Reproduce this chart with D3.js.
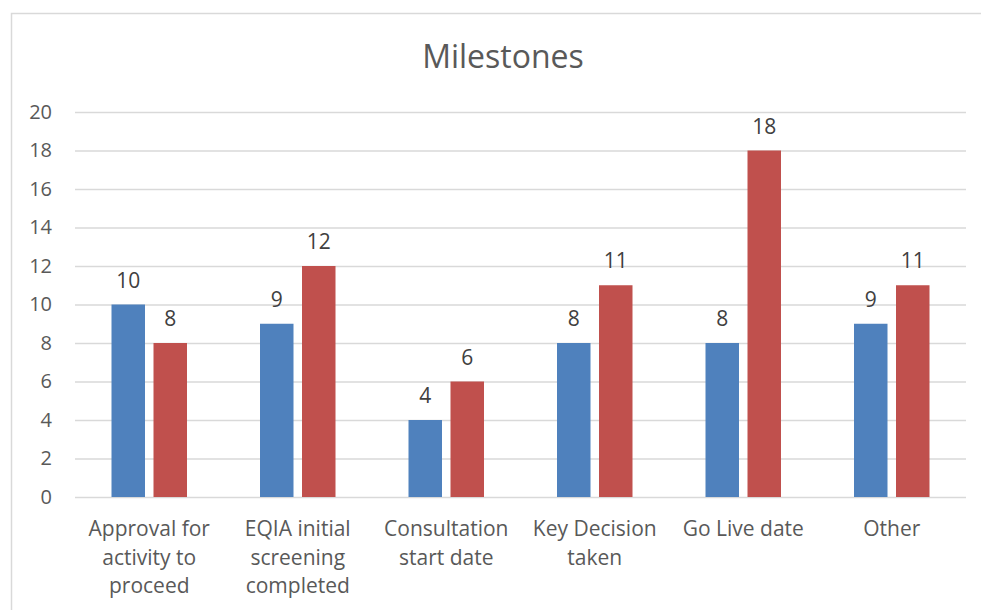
<!DOCTYPE html>
<html>
<head>
<meta charset="utf-8">
<script src="https://cdn.jsdelivr.net/npm/d3@7"></script>
<style>
  body { margin: 0; background: #fff; }
  text { font-family: "Open Sans", sans-serif; fill: #595959; }
</style>
</head>
<body>
<div id="canvas"></div>
<script>
(function(d3){

  // chart data
  var categories = ['Approval', 'EQIA', 'Consultation', 'Key Decision', 'Go Live', 'Other'],
      tickLabels = [
        ['Approval for', 'activity to', 'proceed'],
        ['EQIA initial', 'screening', 'completed'],
        ['Consultation', 'start date'],
        ['Key Decision', 'taken'],
        ['Go Live date'],
        ['Other']
      ],
      seriesA = [10, 9, 4, 8, 8, 9],
      seriesB = [8, 12, 6, 11, 18, 11],
      yTicks = [0, 2, 4, 6, 8, 10, 12, 14, 16, 18, 20],
      colors = ['#4F81BD', '#C0504D'];

  var canvas_d = {width: 981, height: 610},
      plot = {left: 75, right: 966, top: 112, bottom: 497},
      canvas;

  canvas = d3.select('#canvas').append('svg')
      .attr('width', canvas_d.width)
      .attr('height', canvas_d.height);

  // chart border
  canvas.append('rect')
      .attr('x', 11.5).attr('y', 13.5)
      .attr('width', 1000).attr('height', 700)
      .attr('fill', 'none')
      .attr('stroke', '#D9D9D9')
      .attr('stroke-width', 1.5);

  canvas.append('text')
      .attr('x', 503).attr('y', 68)
      .attr('text-anchor', 'middle')
      .style('font-size', '32px')
      .text('Milestones');

  var x = d3.scaleBand()
      .domain(categories)
      .range([plot.left, plot.right]);

  var y = d3.scaleLinear()
      .domain([0, 20])
      .range([plot.bottom, plot.top]);

  var barW = 33.5, gap = 8.5;

  // grid + y labels
  var yAxis = canvas.append('g')
      .attr('transform', 'translate(' + plot.left + ',0)')
      .call(d3.axisLeft(y).tickValues(yTicks).tickSize(-(plot.right - plot.left)).tickPadding(23));
  yAxis.select('.domain').remove();
  yAxis.selectAll('line').attr('stroke', '#D9D9D9').attr('stroke-width', 1.5);
  yAxis.selectAll('text')
      .style('font-size', '20px')
      .style('font-family', '"Open Sans", sans-serif')
      .attr('fill', '#595959');

  var series = [seriesA, seriesB];

  series.map(function(vals, s) {
    var offset = s === 0 ? -gap / 2 - barW : gap / 2;

    canvas.append('g').selectAll('rect')
        .data(vals)
      .enter().append('rect')
        .attr('x', function(d, i) { return x(categories[i]) + x.bandwidth() / 2 + offset })
        .attr('width', barW)
        .attr('y', function(d) { return y(d) })
        .attr('height', function(d) { return y(0) - y(d) })
        .attr('fill', colors[s]);

    canvas.append('g').selectAll('text')
        .data(vals)
      .enter().append('text')
        .attr('x', function(d, i) { return x(categories[i]) + x.bandwidth() / 2 + offset + barW / 2 })
        .attr('y', function(d) { return y(d) - 17 })
        .attr('text-anchor', 'middle')
        .style('font-size', '21px')
        .style('fill', '#404040')
        .text(function(d) { return d });
  });

  // category labels
  var cat = canvas.append('g').selectAll('text')
      .data(tickLabels)
    .enter().append('text')
      .attr('text-anchor', 'middle')
      .style('font-size', '21px')
      .attr('transform', function(d, i) {
        return 'translate(' + (x(categories[i]) + x.bandwidth() / 2) + ',536)';
      });

  cat.selectAll('tspan')
      .data(function(d) { return d })
    .enter().append('tspan')
      .attr('x', 0)
      .attr('y', function(d, i) { return 28.5 * i })
      .text(function(d) { return d });

})(d3);
</script>
</body>
</html>
